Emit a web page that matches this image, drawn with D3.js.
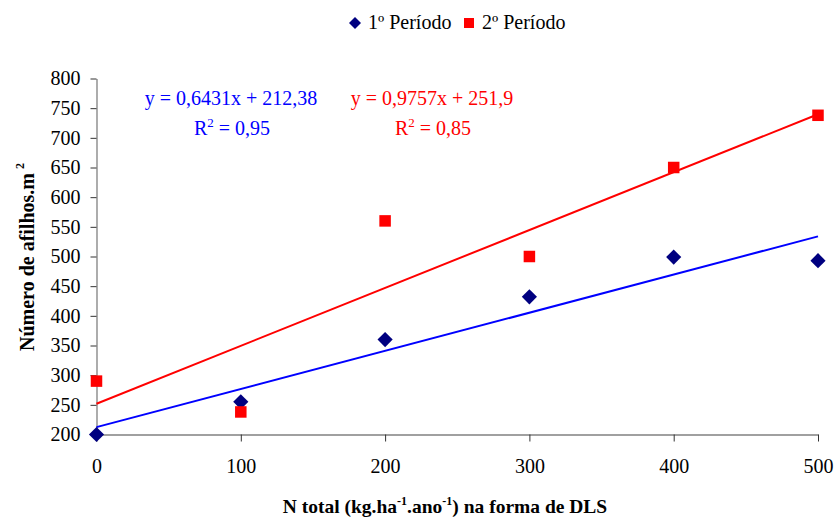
<!DOCTYPE html>
<html>
<head>
<meta charset="utf-8">
<script src="https://cdn.jsdelivr.net/npm/d3@7"></script>
<style>
  html, body { margin: 0; padding: 0; background: #fff; }
  svg { display: block; font-family: "Liberation Serif", "Times New Roman", serif; }
</style>
</head>
<body>
<svg id="chart" width="834" height="519"></svg>
<script>
// Doses of total N (kg/ha/year) applied as DLS
const doses = [0, 100, 200, 300, 400, 500];
// Tiller counts per m² for each period
const periodo1 = [200, 255, 360, 432, 499, 493];
const periodo2 = [290, 238, 560, 500, 650, 738];
// Fitted linear trends: slope, intercept, R²
const trend1 = { slope: 0.6431, intercept: 212.38, r2: "0,95", eq: "y = 0,6431x + 212,38" };
const trend2 = { slope: 0.9757, intercept: 251.9, r2: "0,85", eq: "y = 0,9757x + 251,9" };
const xTicks = [0, 100, 200, 300, 400, 500];
const yTicks = [200, 250, 300, 350, 400, 450, 500, 550, 600, 650, 700, 750, 800];
const seriesNames = ["1º Período", "2º Período"];

const svg = d3.select("#chart");
const x = d3.scaleLinear().domain([0, 500]).range([96.5, 818]);
const y = d3.scaleLinear().domain([200, 800]).range([434.5, 78.5]);
const axisColor = "#808080";

// Axes
const yAxis = svg.append("g").attr("transform", `translate(${x(0)},0)`)
  .call(d3.axisLeft(y).tickValues(yTicks).tickSize(6).tickSizeOuter(0).tickPadding(10));
const xAxis = svg.append("g").attr("transform", `translate(0,${y(200)})`)
  .call(d3.axisBottom(x).tickValues(xTicks).tickSize(7).tickSizeOuter(0).tickPadding(17));
[yAxis, xAxis].forEach(g => {
  g.select(".domain").attr("stroke", axisColor).attr("stroke-width", 1.3);
  g.selectAll(".tick line").attr("stroke", "#333").attr("stroke-width", 1);
  g.selectAll(".tick text").attr("font-family", "Liberation Serif").attr("font-size", 20).attr("fill", "#000");
});
xAxis.selectAll(".tick text").attr("dy", "0.71em");

// Trend lines
function trendLine(t, color) {
  svg.append("line")
    .attr("x1", x(0)).attr("y1", y(t.intercept))
    .attr("x2", x(500)).attr("y2", y(t.intercept + t.slope * 500))
    .attr("stroke", color).attr("stroke-width", 2);
}
trendLine(trend1, "#0000ff");
trendLine(trend2, "#ff0000");

// Markers
const diamond = d3.symbol().type(d3.symbolSquare).size(115);
svg.append("g").selectAll("path").data(doses.map((d, i) => [d, periodo1[i]])).join("path")
  .attr("d", diamond)
  .attr("transform", d => `translate(${x(d[0])},${y(d[1])}) rotate(45)`)
  .attr("fill", "#000080");
const sq = 11.5;
svg.append("g").selectAll("rect").data(doses.map((d, i) => [d, periodo2[i]])).join("rect")
  .attr("x", d => x(d[0]) - sq / 2).attr("y", d => y(d[1]) - sq / 2)
  .attr("width", sq).attr("height", sq)
  .attr("fill", "#ff0000");

// Equations
function equation(t, color, cx1, cx2) {
  svg.append("text").attr("x", cx1).attr("y", 105).attr("text-anchor", "middle")
    .attr("font-size", 20).attr("fill", color).text(t.eq);
  const r = svg.append("text").attr("x", cx2).attr("y", 135).attr("text-anchor", "middle")
    .attr("font-size", 20).attr("fill", color);
  r.append("tspan").text("R");
  r.append("tspan").attr("font-size", 13).attr("dy", -8).text("2");
  r.append("tspan").attr("dy", 8).text(" = " + t.r2);
}
equation(trend1, "#0000ff", 231, 232);
equation(trend2, "#ff0000", 432, 433);

// Legend
const leg = svg.append("g");
leg.append("path").attr("d", d3.symbol().type(d3.symbolSquare).size(72))
  .attr("transform", "translate(355,23) rotate(45)").attr("fill", "#000080");
leg.append("text").attr("x", 368).attr("y", 29).attr("font-size", 20).text(seriesNames[0]);
leg.append("rect").attr("x", 464).attr("y", 18).attr("width", 10).attr("height", 10).attr("fill", "#ff0000");
leg.append("text").attr("x", 482).attr("y", 29).attr("font-size", 20).text(seriesNames[1]);

// Axis titles
const xt = svg.append("text").attr("x", 445).attr("y", 513).attr("text-anchor", "middle")
  .attr("font-size", 19.5).attr("font-weight", "bold");
xt.append("tspan").text("N total (kg.ha");
xt.append("tspan").attr("font-size", 12).attr("dy", -8).text("-1");
xt.append("tspan").attr("dy", 8).text(".ano");
xt.append("tspan").attr("font-size", 12).attr("dy", -8).text("-1");
xt.append("tspan").attr("dy", 8).text(") na forma de DLS");

const yt = svg.append("text").attr("transform", "translate(34,257) rotate(-90)")
  .attr("text-anchor", "middle").attr("font-size", 20).attr("font-weight", "bold");
yt.append("tspan").text("Número de afilhos.m");
yt.append("tspan").attr("font-size", 12).attr("dy", -10).attr("dx", 4).text("2");
</script>
</body>
</html>
